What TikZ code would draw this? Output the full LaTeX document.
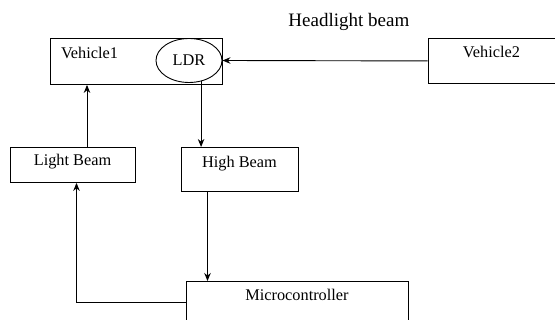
\documentclass[tikz,border=0pt]{standalone}
\usepackage{fontspec}
\setmainfont{Liberation Serif}
\usepackage{tikz}
\usetikzlibrary{arrows.meta,shapes.geometric,positioning}

\begin{document}
\begin{tikzpicture}[->,>={Stealth[length=8pt,width=6.5pt]},x=1pt,y=-1pt,line width=0.9pt,
                    font=\fontsize{16.3pt}{18pt}\selectfont,
                    box/.style={draw,rectangle,anchor=north,inner sep=0pt}]

  \useasboundingbox (0,0) rectangle (555,320);

  \node[box,minimum width=172,text height=20,text depth=26,
        inner xsep=11,text width=150,align=left] (v1) at (136,38) {Vehicle1};
  \node[draw,ellipse,minimum width=66,minimum height=44,inner sep=0pt] (ldr) at (189,60.5) {LDR};
  \node[box,minimum width=127,text height=19,text depth=26] (v2) at (491.5,38) {Vehicle2};
  \node[font=\fontsize{19pt}{22pt}\selectfont,anchor=base west,inner sep=0pt] (beam) at (288,27) {Headlight beam};
  \node[box,minimum width=125,text height=18,text depth=17] (lb) at (72.5,147) {Light Beam};
  \node[box,minimum width=117,text height=20,text depth=24] (hb) at (239.5,147) {High Beam};
  \node[box,minimum width=222,text height=19,text depth=40] (mc) at (297,281) {Microcontroller};

  \path (v2.west)              edge (ldr.east)
        (ldr.-60)              edge (ldr.-60 |- hb.north)
        ([xshift=-32pt]hb.south) edge ([xshift=-32pt]hb.south |- mc.north)
        ([xshift=14.5pt]lb.north) edge ([xshift=14.5pt]lb.north |- v1.south);
  \draw ([yshift=-21pt]mc.north west) -| ([xshift=4pt]lb.south);
\end{tikzpicture}
\end{document}
